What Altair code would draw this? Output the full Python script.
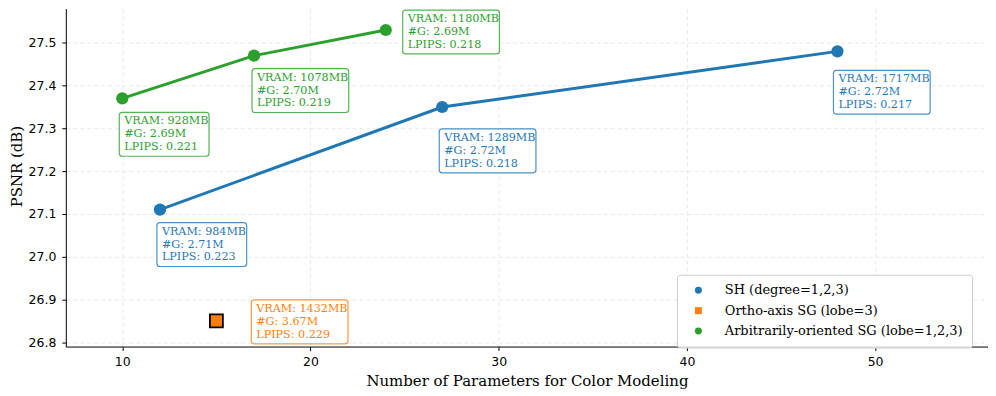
import altair as alt
import pandas as pd

# ---- data ----
series_names = ["SH (degree=1,2,3)", "Ortho-axis SG (lobe=3)", "Arbitrarily-oriented SG (lobe=1,2,3)"]
series_colors = ["#1f77b4", "#ff7f0e", "#2ca02c"]
series_shapes = ["circle", "square", "circle"]

sh_params = [12, 27, 48]
sh_psnr = [27.11, 27.35, 27.48]
sh_vram = ["984MB", "1289MB", "1717MB"]
sh_g = ["2.71M", "2.72M", "2.72M"]
sh_lpips = ["0.223", "0.218", "0.217"]

ortho_params = [15]
ortho_psnr = [26.85]
ortho_vram = ["1432MB"]
ortho_g = ["3.67M"]
ortho_lpips = ["0.229"]

sg_params = [10, 17, 24]
sg_psnr = [27.37, 27.47, 27.53]
sg_vram = ["928MB", "1078MB", "1180MB"]
sg_g = ["2.69M", "2.70M", "2.69M"]
sg_lpips = ["0.221", "0.219", "0.218"]

# label box placement (pixel offsets from the point: left, top)
sh_box = [(-3, 13), (-3, 22), (-4, 19)]
ortho_box = [(35, -21)]
sg_box = [(-3, 14), (-2, 13), (17, -20)]

rows = []
for name, xs, ys, vr, gs, lp, bx in [
    (series_names[0], sh_params, sh_psnr, sh_vram, sh_g, sh_lpips, sh_box),
    (series_names[1], ortho_params, ortho_psnr, ortho_vram, ortho_g, ortho_lpips, ortho_box),
    (series_names[2], sg_params, sg_psnr, sg_vram, sg_g, sg_lpips, sg_box),
]:
    for i in range(len(xs)):
        rows.append(dict(series=name, params=xs[i], psnr=ys[i],
                         label=f"VRAM: {vr[i]}\n#G: {gs[i]}\nLPIPS: {lp[i]}",
                         bx=bx[i][0], by=bx[i][1]))
df = pd.DataFrame(rows)

X = alt.X("params:Q", scale=alt.Scale(domain=[7, 56], nice=False, zero=False),
          axis=alt.Axis(values=[10, 20, 30, 40, 50], format="d",
                        labelFont="DejaVu Sans",
                        title="Number of Parameters for Color Modeling"))
Y = alt.Y("psnr:Q", scale=alt.Scale(domain=[26.79, 27.58], nice=False, zero=False),
          axis=alt.Axis(values=[26.8, 26.9, 27.0, 27.1, 27.2, 27.3, 27.4, 27.5], format=".1f",
                        labelFont="DejaVu Sans",
                        title="PSNR (dB)", titleAngle=-90, titleX=-49, titleY=158,
                        titleBaseline="middle", titleAlign="center"))

color_scale = alt.Scale(domain=series_names, range=series_colors)
shape_scale = alt.Scale(domain=series_names, range=series_shapes)

legend_def = alt.Legend(title=None, orient="none", legendX=613, legendY=267,
                        labelFont="DejaVu Serif", labelFontSize=13, labelLimit=0)

base = alt.Chart(df)

layers = []
for k in [0, 2]:
    layers.append(base.transform_filter(alt.datum.series == series_names[k]).mark_line(
        strokeWidth=3, color=series_colors[k]).encode(x=X, y=Y))

points = base.mark_point(filled=True, size=150, opacity=1).encode(
    x=X, y=Y,
    color=alt.Color("series:N", scale=color_scale, legend=legend_def),
    shape=alt.Shape("series:N", scale=shape_scale, legend=legend_def))
layers.append(points)

squares = base.transform_filter(alt.datum.series == series_names[1]).mark_point(
    filled=True, shape="square", size=169, fill=series_colors[1], stroke="black",
    strokeWidth=1.8, opacity=1).encode(x=X, y=Y)
layers.append(squares)

R = 3
for i, r in df.iterrows():
    col = series_colors[series_names.index(r["series"])]
    w = 90 if len(r["label"].split("\n")[0]) <= 11 else 97
    h = 44
    bx, by = r["bx"], r["by"]
    path = (f"M{bx+R},{by}H{bx+w-R}Q{bx+w},{by} {bx+w},{by+R}V{by+h-R}"
            f"Q{bx+w},{by+h} {bx+w-R},{by+h}H{bx+R}Q{bx},{by+h} {bx},{by+h-R}"
            f"V{by+R}Q{bx},{by} {bx+R},{by}Z")
    one = alt.Chart(df.iloc[[i]])
    box = one.mark_point(shape=path, size=4, filled=True, fill="white", fillOpacity=0.85,
                         stroke=col, strokeOpacity=0.8, strokeWidth=1.2, opacity=1).encode(x=X, y=Y)
    txt = one.mark_text(align="left", baseline="top", dx=bx + 5, dy=by + 3, font="DejaVu Serif",
                        fontSize=11.2, lineHeight=13, lineBreak="\n", color=col).encode(
        x=X, y=Y, text="label:N")
    layers += [box, txt]

chart = alt.layer(*layers).properties(
    width=925, height=339, autosize="none",
    padding={"left": 58, "top": 0, "right": 0, "bottom": 49},
).configure(
    font="DejaVu Serif", style={"guide-label": {"font": "DejaVu Serif"}}
).configure_view(stroke=None).configure_axis(
    labelFont="DejaVu Sans", labelFontSize=12.5, labelColor="black",
    titleFont="DejaVu Serif", titleFontSize=15, titleFontWeight="normal", titleColor="black",
    tickColor="black", tickSize=4, domainColor="black", domainWidth=1,
    grid=True, gridColor="#e3e3e3", gridDash=[4, 3], gridWidth=0.8,
).configure_axisX(labelPadding=5, titlePadding=6).configure_axisY(labelPadding=6).configure_legend(
    labelFont="DejaVu Serif", labelFontSize=13, labelColor="black", labelLimit=0,
    symbolSize=49, symbolStrokeWidth=0, padding=9, rowPadding=6.5,
    labelOffset=20, fillColor="rgba(255,255,255,0.8)",
    strokeColor="#cccccc", cornerRadius=3, symbolOffset=6,
)

chart.save("out.html", embed_options={"renderer": "svg", "actions": False})
